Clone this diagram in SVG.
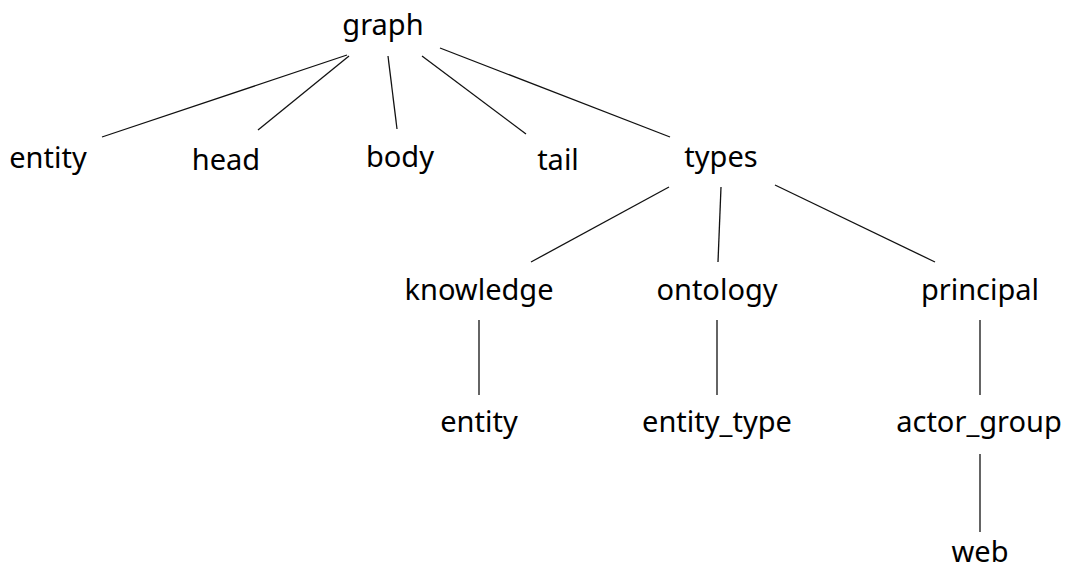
<svg xmlns="http://www.w3.org/2000/svg" width="1065" height="572" viewBox="0 0 1065 572">
  <style>
    .label { font-family: "Noto Sans", "Open Sans", sans-serif; font-size: 29px; fill: #000; text-anchor: middle; }
    .edge { stroke: #111; stroke-width: 1.3; fill: none; }
  </style>
  <rect width="1065" height="572" fill="#fff"/>

  <!-- tree edges -->
  <g id="connectors">
    <line class="edge" x1="347" y1="55" x2="102" y2="137"/>
    <line class="edge" x1="349" y1="56" x2="258" y2="130"/>
    <line class="edge" x1="388" y1="56" x2="397" y2="129"/>
    <line class="edge" x1="422" y1="56" x2="526" y2="134"/>
    <line class="edge" x1="440" y1="48" x2="670" y2="137"/>
    <line class="edge" x1="669" y1="187" x2="531" y2="262"/>
    <line class="edge" x1="721" y1="187" x2="718" y2="262"/>
    <line class="edge" x1="775" y1="185" x2="935" y2="262"/>
    <line class="edge" x1="479" y1="320" x2="479" y2="395"/>
    <line class="edge" x1="717" y1="320" x2="717" y2="395"/>
    <line class="edge" x1="980" y1="320" x2="980" y2="395"/>
    <line class="edge" x1="980" y1="454" x2="980" y2="532"/>
  </g>

  <!-- nodes -->
  <g id="graph"><text class="label" x="383" y="35">graph</text></g>
  <g id="entity"><text class="label" x="48" y="168">entity</text></g>
  <g id="head"><text class="label" x="226" y="170">head</text></g>
  <g id="body"><text class="label" x="400" y="167">body</text></g>
  <g id="tail"><text class="label" x="558" y="170">tail</text></g>
  <g id="types"><text class="label" x="721" y="167">types</text></g>
  <g id="knowledge"><text class="label" x="479" y="300">knowledge</text></g>
  <g id="ontology"><text class="label" x="717" y="300">ontology</text></g>
  <g id="principal"><text class="label" x="980" y="300">principal</text></g>
  <g id="knowledge_entity"><text class="label" x="479" y="432">entity</text></g>
  <g id="entity_type"><text class="label" x="717" y="432">entity_type</text></g>
  <g id="actor_group"><text class="label" x="979" y="432">actor_group</text></g>
  <g id="web"><text class="label" x="980" y="562">web</text></g>
</svg>
